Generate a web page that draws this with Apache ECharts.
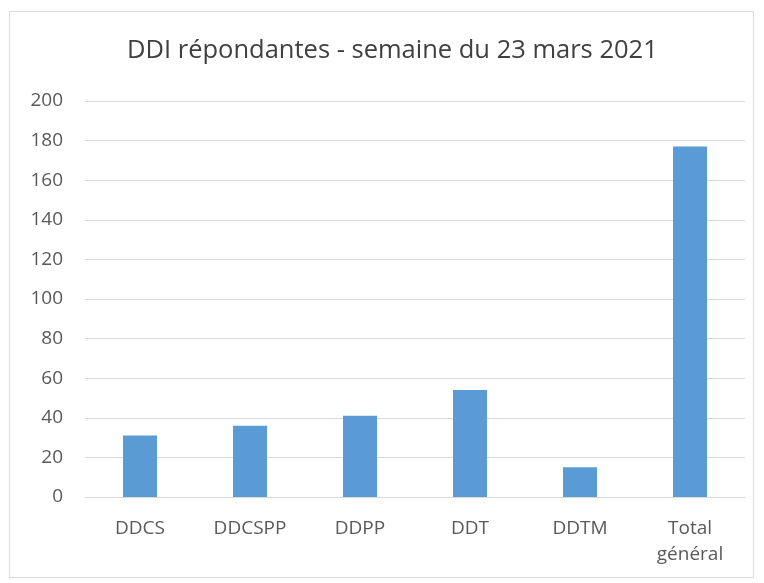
<!DOCTYPE html>
<html>
<head>
<meta charset="utf-8">
<script src="https://cdn.jsdelivr.net/npm/echarts@6/dist/echarts.min.js"></script>
<style>
  html, body { margin: 0; padding: 0; background: #fff; }
  #frame { position: absolute; left: 9px; top: 11px; width: 745px; height: 567px; border: 1px solid #d9d9d9; box-sizing: border-box; }
  #chart { position: absolute; left: 0; top: 0; width: 764px; height: 583px; }
</style>
</head>
<body>
<div id="frame"></div>
<div id="chart"></div>
<script>
// categories and counts
var categories = ['DDCS', 'DDCSPP', 'DDPP', 'DDT', 'DDTM', 'Total\ngénéral'];
var repondantes = [31, 36, 41, 54, 15, 177];
var titre = 'DDI répondantes - semaine du 23 mars 2021';

var font = 'Open Sans';
var chart = echarts.init(document.getElementById('chart'));
chart.setOption({
  animation: false,
  title: {
    text: titre,
    left: 122,
    top: 33,
    textStyle: { fontFamily: font, fontSize: 25.5, fontWeight: 'normal', color: '#404040' }
  },
  grid: { left: 85, right: 19, top: 101, bottom: 86, containLabel: false },
  xAxis: {
    type: 'category',
    data: categories,
    axisLine: { lineStyle: { color: '#d9d9d9', width: 1 } },
    axisTick: { show: false },
    axisLabel: { fontFamily: font, fontSize: 19, color: '#595959', margin: 19, lineHeight: 26 }
  },
  yAxis: {
    type: 'value',
    min: 0,
    max: 200,
    interval: 20,
    axisLine: { show: false },
    axisTick: { show: false },
    splitLine: { lineStyle: { color: '#d9d9d9', width: 1 } },
    axisLabel: { fontFamily: font, fontSize: 19, color: '#595959', margin: 22 }
  },
  series: [{
    type: 'bar',
    data: repondantes,
    barWidth: 34,
    itemStyle: { color: '#5b9bd5' }
  }]
});
</script>
</body>
</html>
